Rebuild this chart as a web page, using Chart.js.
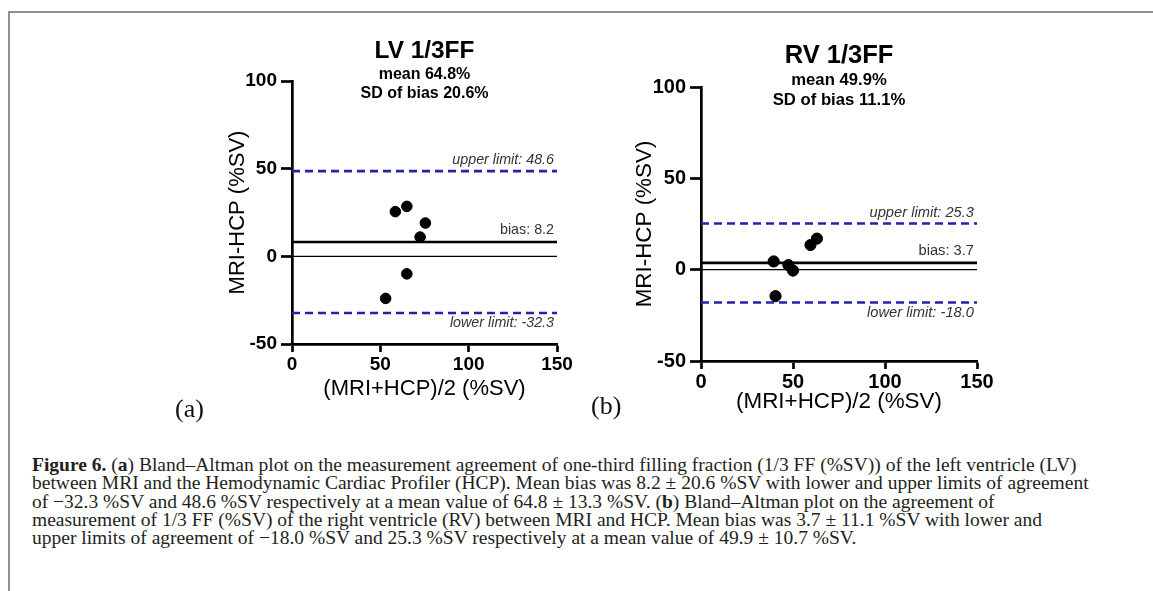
<!DOCTYPE html>
<html>
<head>
<meta charset="utf-8">
<title>Figure 6 - Bland-Altman 1/3FF</title>
<script src="https://cdn.jsdelivr.net/npm/chart.js@4.4.1/dist/chart.umd.min.js"></script>
<style>
  body { margin: 0; background: #fff; width: 1153px; height: 591px; overflow: hidden; position: relative; }
  #frame { position: absolute; left: 8px; top: 11px; width: 1145px; height: 580px; box-sizing: border-box;
           border-top: 2px solid #8f8f8f; border-left: 2px solid #8f8f8f; }
  .panel { position: absolute; }
  #panelA { left: 130px; top: 14px; }
  #panelB { left: 560px; top: 14px; }
  .tag { position: absolute; font-family: "Liberation Serif", "Times New Roman", serif; font-size: 26px; line-height: 26px; color: #111; }
  #tagA { left: 175px; top: 396px; }
  #tagB { left: 591px; top: 393px; }
  #caption { position: absolute; left: 32px; top: 456px; font-family: "Liberation Serif", "Times New Roman", serif;
             font-size: 19.5px; line-height: 18.3px; color: #231f20; white-space: nowrap; }
</style>
</head>
<body>
<div id="frame"></div>
<canvas id="panelA" class="panel" width="470" height="400"></canvas>
<canvas id="panelB" class="panel" width="470" height="410"></canvas>
<div id="tagA" class="tag">(a)</div>
<div id="tagB" class="tag">(b)</div>
<div id="caption">
<b>Figure 6.</b> (<b>a</b>) Bland–Altman plot on the measurement agreement of one-third filling fraction (1/3 FF (%SV)) of the left ventricle (LV)<br>
between MRI and the Hemodynamic Cardiac Profiler (HCP). Mean bias was 8.2 ± 20.6 %SV with lower and upper limits of agreement<br>
of −32.3 %SV and 48.6 %SV respectively at a mean value of 64.8 ± 13.3 %SV. (<b>b</b>) Bland–Altman plot on the agreement of<br>
measurement of 1/3 FF (%SV) of the right ventricle (RV) between MRI and HCP. Mean bias was 3.7 ± 11.1 %SV with lower and<br>
upper limits of agreement of −18.0 %SV and 25.3 %SV respectively at a mean value of 49.9 ± 10.7 %SV.
</div>
<script>
'use strict';

// ***** DATA *****
// x = (MRI+HCP)/2 (%SV), y = MRI-HCP (%SV)
let lvMean = [58.5, 65, 75.5, 72.5, 65, 53];
let lvDiff = [25.5, 28.5, 19, 11, -10, -24];
let rvMean = [39.5, 47.5, 50, 59.5, 63, 40.5];
let rvDiff = [4.5, 2.5, -0.5, 13.5, 17, -14.5];

// upper limit, bias, lower limit
let lvLimits = [48.6, 8.2, -32.3];
let rvLimits = [25.3, 3.7, -18.0];

let xTicks = [0, 50, 100, 150];
let yTicks = [-50, 0, 50, 100];

let panelTitles = ['LV 1/3FF', 'RV 1/3FF'];
let lvStats = ['mean 64.8%', 'SD of bias 20.6%'];
let rvStats = ['mean 49.9%', 'SD of bias 11.1%'];

let xTitle = '(MRI+HCP)/2 (%SV)';
let yTitle = 'MRI-HCP (%SV)';

// ***** STYLE *****
const FONT = '"Liberation Sans", Arial, sans-serif';
const BLUE = '#2222aa';
Chart.defaults.font.family = FONT;
Chart.defaults.color = '#000';

// **** PLUGIN: panel title, stats and limit labels ****
const panelText = {
  id: 'panelText',
  afterDatasetsDraw(chart, args, o) {
    let ctx = chart.ctx;
    let area = chart.chartArea;
    let y = chart.scales.y;
    let cx = (area.left + area.right) / 2;
    ctx.save();
    ctx.fillStyle = '#000';
    ctx.textAlign = 'center';
    ctx.textBaseline = 'middle';
    ctx.font = 'bold ' + o.titleSize + 'px ' + FONT;
    ctx.fillText(o.title, cx, area.top - o.titleGap);
    ctx.font = 'bold ' + o.statSize + 'px ' + FONT;
    ctx.fillText(o.stats[0], cx, area.top - 6 * o.s);
    ctx.fillText(o.stats[1], cx, area.top + 12.5 * o.s);

    // limit labels
    let rx = area.right - 3;
    ctx.textAlign = 'right';
    ctx.fillStyle = '#333';
    ctx.font = 'italic ' + o.labelSize + 'px ' + FONT;
    ctx.fillText('upper limit: ' + o.limits[0].toFixed(1), rx, y.getPixelForValue(o.limits[0]) - 11);
    ctx.fillText('lower limit: ' + o.limits[2].toFixed(1), rx, y.getPixelForValue(o.limits[2]) + 10);
    ctx.font = o.labelSize + 'px ' + FONT;
    ctx.fillText('bias: ' + o.limits[1].toFixed(1), rx, y.getPixelForValue(o.limits[1]) - 12);
    ctx.restore();
  }
};

function hLine(v, color, width, dash) {
  return {
    type: 'line',
    data: [{x: xTicks[0], y: v}, {x: xTicks[xTicks.length - 1], y: v}],
    borderColor: color,
    borderWidth: width,
    borderDash: dash,
    pointRadius: 0,
    fill: false
  };
}

function makePanel(id, p) {
  let points = p.xs.map((x, i) => ({x: x, y: p.ys[i]}));
  new Chart(document.getElementById(id), {
    type: 'scatter',
    data: {
      datasets: [
        {data: points, backgroundColor: '#000', borderColor: '#000', pointRadius: p.r, pointHoverRadius: p.r},
        hLine(p.limits[0], BLUE, 2.6, [8, 5]),
        hLine(p.limits[1], '#000', 2.6, []),
        hLine(0, '#000', 1.2, []),
        hLine(p.limits[2], BLUE, 2.6, [8, 5])
      ]
    },
    options: {
      responsive: false,
      animation: false,
      layout: {padding: p.pad},
      plugins: {
        legend: {display: false},
        tooltip: {enabled: false},
        panelText: {
          title: p.title, stats: p.stats, limits: p.limits, s: p.s,
          titleSize: p.titleSize, statSize: p.statSize, labelSize: p.labelSize, titleGap: p.titleGap
        }
      },
      scales: {
        x: {
          type: 'linear',
          min: xTicks[0],
          max: xTicks[xTicks.length - 1],
          afterBuildTicks: (sc) => { sc.ticks = xTicks.map(v => ({value: v})); },
          afterFit: (sc) => { sc.height = p.xAxisH; },
          border: {display: true, color: '#000', width: 2.7},
          grid: {drawOnChartArea: false, tickLength: 8, tickColor: '#000', tickWidth: 2.7},
          ticks: {font: {size: p.tickSize, weight: 'bold'}, color: '#000', padding: 1, maxRotation: 0},
          title: {display: true, text: xTitle, font: {size: p.axisTitleSize}, color: '#000', padding: 0}
        },
        y: {
          type: 'linear',
          min: yTicks[0],
          max: yTicks[yTicks.length - 1],
          afterBuildTicks: (sc) => { sc.ticks = yTicks.map(v => ({value: v})); },
          afterFit: (sc) => { sc.width = p.yAxisW; },
          border: {display: true, color: '#000', width: 2.7},
          grid: {drawOnChartArea: false, tickLength: 11, tickColor: '#000', tickWidth: 2.7},
          ticks: {font: {size: p.tickSize, weight: 'bold'}, color: '#000', padding: 4},
          title: {display: true, text: yTitle, font: {size: p.axisTitleSize}, color: '#000', padding: 0}
        }
      }
    },
    plugins: [panelText]
  });
}

// **** EXECUTABLE CODE ****
makePanel('panelA', {
  xs: lvMean, ys: lvDiff, limits: lvLimits, title: panelTitles[0], stats: lvStats,
  s: 1, r: 5.3, tickSize: 19, axisTitleSize: 22, titleSize: 24.4, statSize: 16, labelSize: 14.3, titleGap: 30,
  yAxisW: 67.2, xAxisH: 58.2,
  pad: {left: 94.8, top: 67, right: 43, bottom: 11.8}
});

makePanel('panelB', {
  xs: rvMean, ys: rvDiff, limits: rvLimits, title: panelTitles[1], stats: rvStats,
  s: 1.045, r: 5.6, tickSize: 20, axisTitleSize: 22.4, titleSize: 25.5, statSize: 16.7, labelSize: 14.7, titleGap: 31,
  yAxisW: 69.4, xAxisH: 54.4,
  pad: {left: 71.6, top: 73, right: 53, bottom: 8.6}
});
</script>
</body>
</html>
